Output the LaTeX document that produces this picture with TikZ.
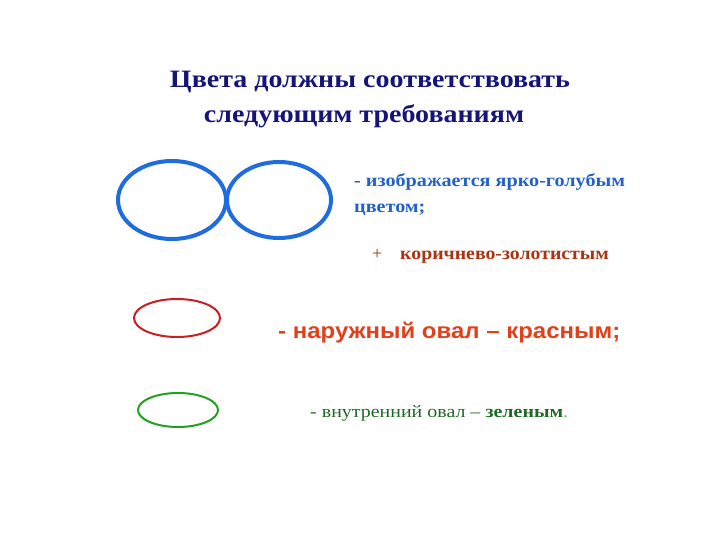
\documentclass[tikz,border=0pt]{standalone}
\usepackage{fontspec}
\setmainfont{Liberation Serif}
\setsansfont{Liberation Sans}
\definecolor{navy}{HTML}{14147A}
\definecolor{bblue}{HTML}{1E6CE0}
\definecolor{tblue}{HTML}{2262C8}
\definecolor{brown}{HTML}{A83412}
\definecolor{ored}{HTML}{C81E22}
\definecolor{tred}{HTML}{E0401A}
\definecolor{ogreen}{HTML}{22A022}
\definecolor{tgreen}{HTML}{1E6A24}
\begin{document}
\begin{tikzpicture}[x=1pt,y=-1pt,
  txt/.style={inner sep=0pt,anchor=base west},
  ttl/.style={inner sep=0pt,anchor=base,font=\bfseries\fontsize{25}{28}\selectfont,text=navy}]
\useasboundingbox (0,0) rectangle (720,540);
\node[ttl] (t1) at (370,88) {\scalebox{1.12}[1]{Цвета должны соответствовать}};
\node[ttl] (t2) at (364,123) {\scalebox{1.12}[1]{следующим требованиям}};
\draw[bblue,line width=4] (172,200) ellipse [x radius=54,y radius=39];
\draw[bblue,line width=4] (279,200) ellipse [x radius=52,y radius=38];
\node[txt,font=\bfseries\fontsize{18}{20}\selectfont,text=tblue] (b1) at (354,187) {\scalebox{1.12}[1]{- изображается ярко-голубым}};
\node[txt,font=\bfseries\fontsize{18}{20}\selectfont,text=tblue] (b2) at (354,212) {\scalebox{1.12}[1]{цветом;}};
\node[txt,font=\fontsize{18}{20}\selectfont,text=brown] (pl) at (372,259) {+};
\node[txt,font=\bfseries\fontsize{18}{20}\selectfont,text=brown] (br) at (400,259) {\scalebox{1.10}[1]{коричнево-золотистым}};
\draw[ored,line width=2] (177,318) ellipse [x radius=43,y radius=19];
\node[txt,font=\sffamily\bfseries\fontsize{22}{24}\selectfont,text=tred] (rd) at (278,338) {\scalebox{1.09}[1]{- наружный овал – красным;}};
\draw[ogreen,line width=2] (178,410) ellipse [x radius=40,y radius=17];
\node[txt,font=\fontsize{17.5}{20}\selectfont,text=tgreen] (gr) at (310,417) {\scalebox{1.14}[1]{- внутренний овал – \textbf{зеленым}\textcolor{ogreen!70}{.}}};
\end{tikzpicture}
\end{document}
